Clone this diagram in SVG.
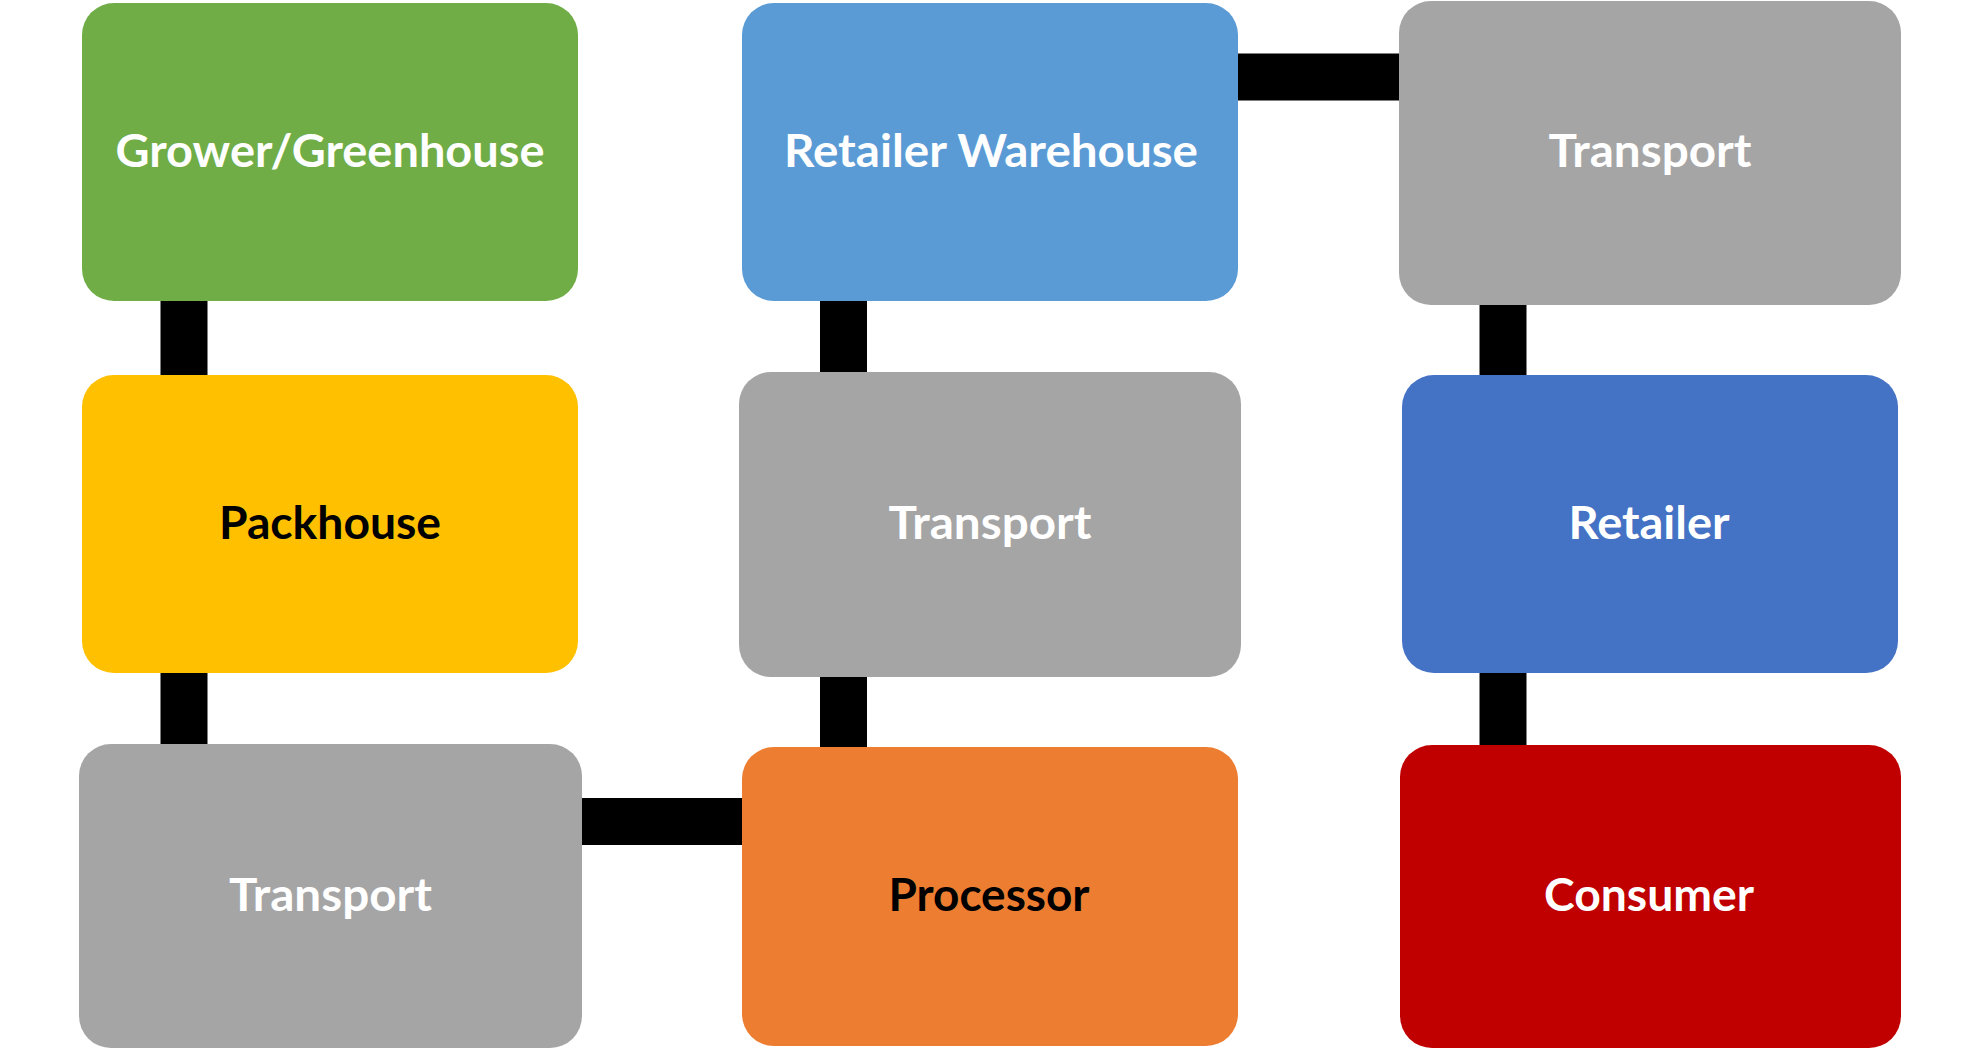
<svg xmlns="http://www.w3.org/2000/svg" width="1980" height="1049" viewBox="0 0 1980 1049">
<style>
.box{stroke:none}
.lbl{font-family:Lato,"Open Sans","DejaVu Sans",sans-serif;font-weight:bold;font-size:45px;text-anchor:middle}
.w{fill:#FFFFFF}
.k{fill:#000000}
.conn line{stroke:#000000;stroke-width:47}
</style>
<rect width="1980" height="1049" fill="#FFFFFF"/>
<g id="connectors" class="conn">
<line x1="184" y1="295" x2="184" y2="381"/>
<line x1="184" y1="667" x2="184" y2="750"/>
<line x1="575" y1="821.5" x2="748" y2="821.5"/>
<line x1="843.5" y1="671" x2="843.5" y2="753"/>
<line x1="843.5" y1="295" x2="843.5" y2="378"/>
<line x1="1231" y1="77" x2="1405" y2="77"/>
<line x1="1503" y1="299" x2="1503" y2="381"/>
<line x1="1503" y1="667" x2="1503" y2="751"/>
</g>
<g id="grower">
<rect class="box" x="82" y="3" width="496" height="298" rx="32" fill="#70AD47"/>
<text class="lbl w" x="330" y="167" textLength="429" lengthAdjust="spacingAndGlyphs">Grower/Greenhouse</text>
</g>
<g id="packhouse">
<rect class="box" x="82" y="375" width="496" height="298" rx="32" fill="#FFC000"/>
<text class="lbl k" x="330" y="539" textLength="222" lengthAdjust="spacingAndGlyphs">Packhouse</text>
</g>
<g id="transport1">
<rect class="box" x="79" y="744" width="503" height="304" rx="32" fill="#A5A5A5"/>
<text class="lbl w" x="330.5" y="911" textLength="203" lengthAdjust="spacingAndGlyphs">Transport</text>
</g>
<g id="processor">
<rect class="box" x="742" y="747" width="496" height="299" rx="32" fill="#ED7D31"/>
<text class="lbl k" x="989" y="911" textLength="201" lengthAdjust="spacingAndGlyphs">Processor</text>
</g>
<g id="transport2">
<rect class="box" x="739" y="372" width="502" height="305" rx="32" fill="#A5A5A5"/>
<text class="lbl w" x="990" y="539" textLength="203" lengthAdjust="spacingAndGlyphs">Transport</text>
</g>
<g id="retailer-warehouse">
<rect class="box" x="742" y="3" width="496" height="298" rx="32" fill="#5B9BD5"/>
<text class="lbl w" x="991" y="167" textLength="414" lengthAdjust="spacingAndGlyphs">Retailer Warehouse</text>
</g>
<g id="transport3">
<rect class="box" x="1399" y="1" width="502" height="304" rx="32" fill="#A5A5A5"/>
<text class="lbl w" x="1650" y="167" textLength="203" lengthAdjust="spacingAndGlyphs">Transport</text>
</g>
<g id="retailer">
<rect class="box" x="1402" y="375" width="496" height="298" rx="32" fill="#4472C4"/>
<text class="lbl w" x="1649" y="539" textLength="161" lengthAdjust="spacingAndGlyphs">Retailer</text>
</g>
<g id="consumer">
<rect class="box" x="1400" y="745" width="501" height="303" rx="32" fill="#C00000"/>
<text class="lbl w" x="1649" y="911" textLength="210" lengthAdjust="spacingAndGlyphs">Consumer</text>
</g>
</svg>
